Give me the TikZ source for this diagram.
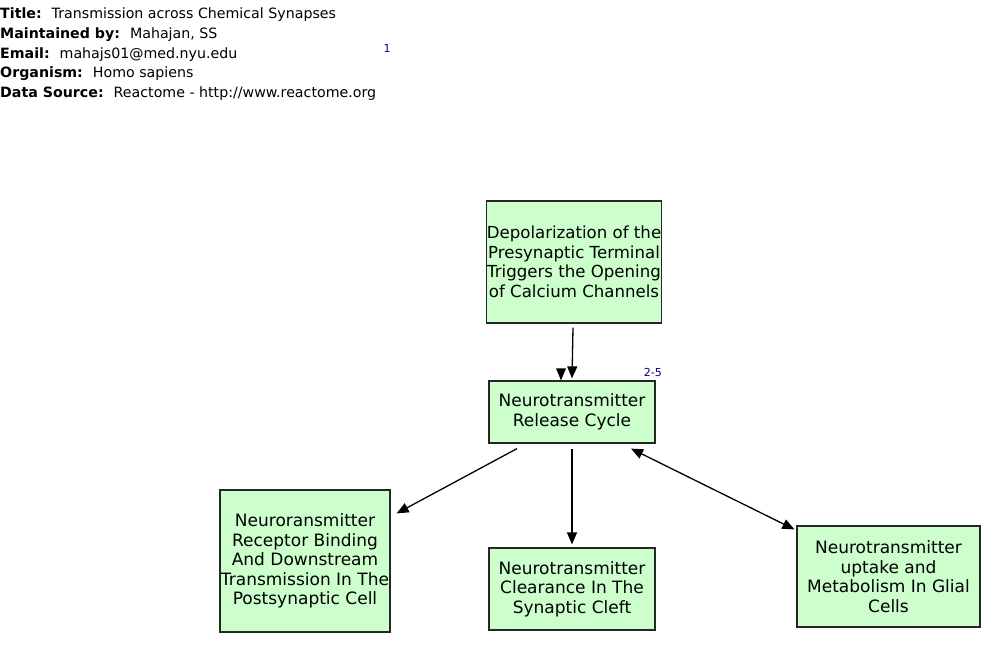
\documentclass[tikz,border=0pt]{standalone}
\usepackage{fontspec}
\setmainfont{DejaVu Sans}
\usepackage{tikz}
\usetikzlibrary{positioning,arrows.meta}

\definecolor{boxgreen}{RGB}{204,255,204}
\definecolor{refblue}{RGB}{0,0,128}

\tikzset{
    pathway/.style={draw=black!85, fill=boxgreen, line width=1.2pt, align=center,
        inner sep=0pt, font=\fontsize{17}{19.5}\selectfont},
    info/.style={anchor=west, inner sep=0pt, font=\fontsize{14.2}{16}\selectfont},
    refnum/.style={text=refblue, inner sep=0pt, font=\fontsize{11}{12}\selectfont},
    link/.style={line width=1.3pt, -{Triangle[length=12pt,width=10pt]}},
}
\newcommand{\infogap}{\hspace{10pt}}

\begin{document}
\begin{tikzpicture}[x=1pt, y=-1pt]
    \useasboundingbox (0,0) rectangle (1000,652);

    % header
    \node[info] (title) at (0,15) {\textbf{Title:}\infogap Transmission across Chemical Synapses};
    \node[info] (maint) at (0,35) {\textbf{Maintained by:}\infogap Mahajan, SS};
    \node[info] (email) at (0,55) {\textbf{Email:}\infogap mahajs01@med.nyu.edu};
    \node[info] (org) at (0,74) {\textbf{Organism:}\infogap Homo sapiens};
    \node[info] (src) at (0,94) {\textbf{Data Source:}\infogap Reactome - http://www.reactome.org};
    \node[refnum] (ref1) at (387,48) {1};

    % pathways
    \node[pathway, minimum width=174pt, minimum height=122pt,
        font=\fontsize{16.6}{19.5}\selectfont] (depol) at (574,262)
        {Depolarization of the\\Presynaptic Terminal\\Triggers the Opening\\of Calcium Channels};
    \node[pathway, minimum width=166pt, minimum height=62pt] (release) at (572,412)
        {Neurotransmitter\\Release Cycle};
    \node[refnum, above right=4pt and -12pt of release.north east] (ref2) {2-5};

    \node[pathway, minimum width=170pt, minimum height=142pt] (receptor) at (305,561)
        {Neuroransmitter\\Receptor Binding\\And Downstream\\Transmission In The\\Postsynaptic Cell};
    \node[pathway, minimum width=166pt, minimum height=82pt] (clearance) at (572,589)
        {Neurotransmitter\\Clearance In The\\Synaptic Cleft};
    \node[pathway, minimum width=183pt, minimum height=101pt] (glial) at (888.5,576.5)
        {Neurotransmitter\\uptake and\\Metabolism In Glial\\Cells};

    % arrows
    \draw[link] ([xshift=-1pt,yshift=-4pt]depol.south) -- ([yshift=2pt]release.north);
    \fill ([xshift=-11pt]release.north) -- ++(-5,-12) -- ++(10,0) -- cycle;
    \draw[link] ([xshift=-55pt,yshift=-5pt]release.south) -- ([xshift=6pt,yshift=-24pt]receptor.north east);
    \draw[link] ([yshift=-5pt]release.south) -- ([yshift=3pt]clearance.north);
    \draw[link, {Triangle[length=12pt,width=10pt]}-{Triangle[length=12pt,width=10pt]}]
        ([xshift=59pt,yshift=-5pt]release.south) -- ([xshift=-2pt,yshift=-4pt]glial.north west);
\end{tikzpicture}
\end{document}
